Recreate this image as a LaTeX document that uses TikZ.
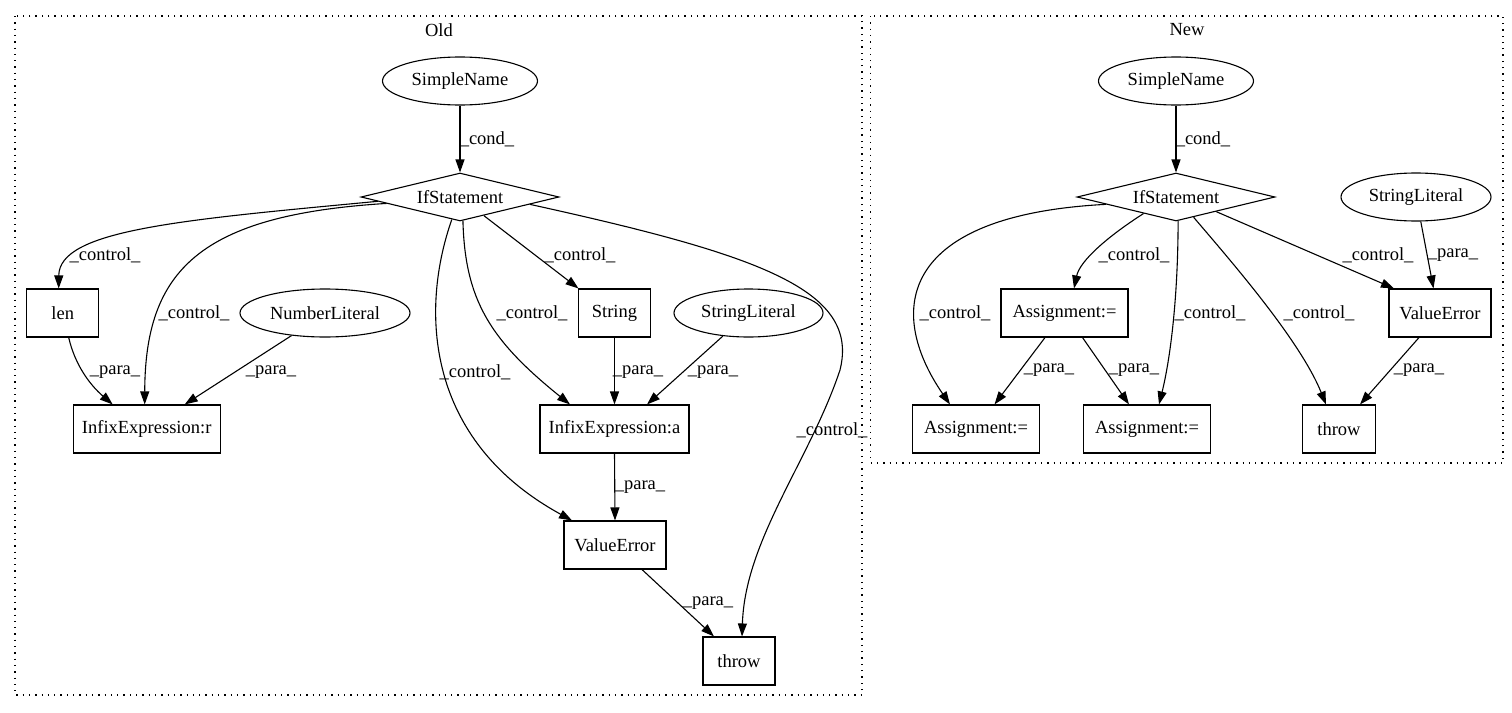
\documentclass[tikz,border=0pt]{standalone}
\usepackage{fontspec}
\setmainfont{Liberation Serif}
\usetikzlibrary{shapes.geometric,arrows.meta}
\begin{document}
\begin{tikzpicture}[x=1pt,y=-1pt,
  every node/.style={font=\fontsize{18.5}{22}\selectfont},
  box/.style={draw,rectangle,line width=1.1pt,minimum height=48pt,inner sep=0pt},
  ell/.style={draw,ellipse,line width=1.1pt,minimum height=48pt,inner sep=0pt},
  dia/.style={draw,diamond,line width=1.1pt,minimum width=198pt,minimum height=48pt,inner sep=0pt,aspect=4},
  arr/.style={line width=1.1pt,-{Triangle[length=13pt,width=9pt]}},
  lab/.style={inner sep=0pt},
  cluster/.style={line width=1.1pt,dash pattern=on 1.3pt off 5pt}]
\useasboundingbox (0,0) rectangle (1512,712);

% clusters
\draw[cluster] (15,16) rectangle (862,695);
\draw[cluster] (870.5,16) rectangle (1503,463);
\node[lab] (told) at (439,30) {Old};
\node[lab] (tnew) at (1187,30) {New};

% Old nodes
\node[ell,minimum width=155pt] (sn1) at (460,81) {SimpleName};
\node[dia] (if1) at (460,197) {IfStatement};
\node[box,minimum width=72pt] (len) at (62.7,313) {len};
\node[ell,minimum width=170pt] (num) at (325,313) {NumberLiteral};
\node[box,minimum width=72pt] (str) at (614.5,313) {String};
\node[ell,minimum width=149pt] (sl1) at (748.5,313) {StringLiteral};
\node[box,minimum width=147pt] (ixr) at (146.7,429) {InfixExpression:r};
\node[box,minimum width=149pt] (ixa) at (614.5,429) {InfixExpression:a};
\node[box,minimum width=102pt] (ve1) at (615,545) {ValueError};
\node[box,minimum width=72pt] (th1) at (739,661) {throw};

% New nodes
\node[ell,minimum width=155pt] (sn2) at (1176,81) {SimpleName};
\node[dia] (if2) at (1176,197) {IfStatement};
\node[ell,minimum width=150pt] (sl2) at (1416,197) {StringLiteral};
\node[box,minimum width=127pt] (ast) at (1064.5,313) {Assignment:=};
\node[box,minimum width=102pt] (ve2) at (1440,313) {ValueError};
\node[box,minimum width=127pt] (asl) at (976,429) {Assignment:=};
\node[box,minimum width=127pt] (asm) at (1147,429) {Assignment:=};
\node[box,minimum width=73pt] (th2) at (1339,429) {throw};

% Old edges
\draw[arr] (sn1) -- (if1);
\draw[arr] (if1.183.5) .. controls (180,220) and (59,230) .. ([xshift=-4pt]len.north);
\draw[arr] (if1.185) .. controls (200,215) and (145,270) .. ([xshift=-2pt]ixr.north);
\draw[arr] (if1.250) .. controls (420,310) and (425,440) .. ([xshift=-43pt]ve1.north);
\draw[arr] (if1.277) .. controls (465,300) and (490,340) .. ([xshift=-44.5pt]ixa.north);
\draw[arr] (if1.-38) -- ([xshift=-36pt]str.north);
\coordinate (tk) at (840,370);
\draw[arr] (if1.-6.5) .. controls (760,255) and (860,290) .. (tk) .. controls (810,460) and (745,540) .. ([xshift=3pt]th1.north);
\draw[arr] ([xshift=6pt]len.south) .. controls (75,365) and (90,385) .. ([xshift=-34pt]ixr.north);
\draw[arr] (num.214) -- ([xshift=38pt]ixr.north);
\draw[arr] (str) -- (ixa);
\draw[arr] (sl1.222) -- ([xshift=32.5pt]ixa.north);
\draw[arr] (ixa.south) -- (ve1.north);
\draw[arr] ([xshift=27pt]ve1.south) -- ([xshift=-25pt]th1.north);

% Old labels
\node[lab] (a1) at (487,139) {\_cond\_};
\node[lab] (a2) at (105,255) {\_control\_};
\node[lab] (a3) at (194,313) {\_control\_};
\node[lab] (a4) at (115,372) {\_para\_};
\node[lab] (a5) at (271,372) {\_para\_};
\node[lab] (a6) at (580,255) {\_control\_};
\node[lab] (a7) at (532,313) {\_control\_};
\node[lab] (a8) at (475,372) {\_control\_};
\node[lab] (a9) at (832,430) {\_control\_};
\node[lab] (a10) at (638,372) {\_para\_};
\node[lab] (a11) at (713,372) {\_para\_};
\node[lab] (a12) at (640,487) {\_para\_};
\node[lab] (a13) at (708,603) {\_para\_};

% New edges
\draw[arr] (sn2) -- (if2);
\draw[arr] (if2.186) .. controls (900,215) and (885,310) .. ([xshift=-26pt]asl.north);
\draw[arr] (if2.207) .. controls (1110,235) and (1080,260) .. ([xshift=9.5pt]ast.north);
\draw[arr] (if2.275) .. controls (1178,300) and (1170,360) .. ([xshift=12pt]asm.north);
\draw[arr] (if2.-49) .. controls (1230,260) and (1300,340) .. ([xshift=-13pt]th2.north);
\draw[arr] (if2.-20) -- ([xshift=-46pt]ve2.north);
\draw[arr] (sl2.281) -- ([xshift=-6.5pt]ve2.north);
\draw[arr] ([xshift=-21pt]ve2.south) -- ([xshift=21pt]th2.north);
\draw[arr] ([xshift=-19.5pt]ast.south) -- ([xshift=18.5pt]asl.north);
\draw[arr] ([xshift=18pt]ast.south) -- ([xshift=-18pt]asm.north);

% New labels
\node[lab] (b1) at (1203,139) {\_cond\_};
\node[lab] (b2) at (955,313) {\_control\_};
\node[lab] (b3) at (1134,255) {\_control\_};
\node[lab] (b4) at (1210,313) {\_control\_};
\node[lab] (b5) at (1319,313) {\_control\_};
\node[lab] (b6) at (1378,255) {\_control\_};
\node[lab] (b7) at (1453,255) {\_para\_};
\node[lab] (b8) at (1049,370) {\_para\_};
\node[lab] (b9) at (1134,370) {\_para\_};
\node[lab] (b10) at (1419,370) {\_para\_};
\end{tikzpicture}
\end{document}
